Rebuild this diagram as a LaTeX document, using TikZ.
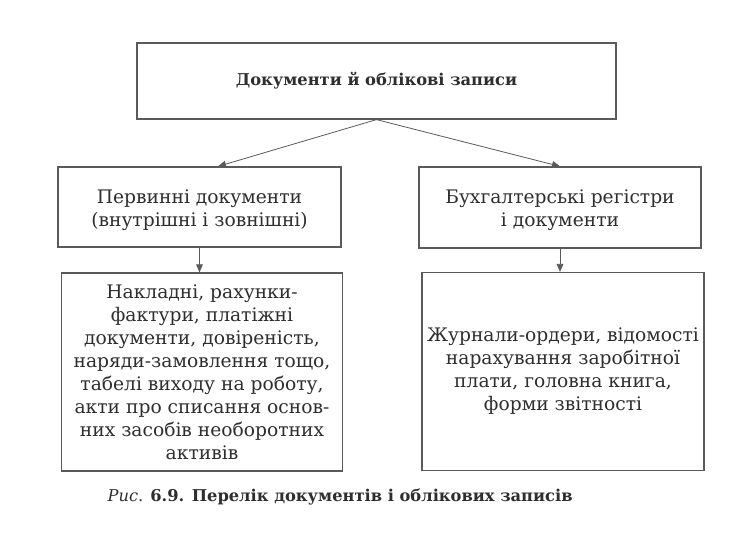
\documentclass[tikz,border=0pt]{standalone}
\usepackage{fontspec}
\setmainfont{DejaVu Serif}
\usetikzlibrary{arrows.meta,calc}
\definecolor{linec}{HTML}{5A5A5A}
\definecolor{textc}{HTML}{2E2E2E}
\begin{document}
\begin{tikzpicture}[x=0.75pt,y=-0.75pt,
  box/.style={draw=linec,line width=0.9pt,rectangle,inner sep=0pt,align=center,text=textc},
  txt/.style={inner sep=0pt,align=center,text=textc},
  arr/.style={draw=linec,line width=0.6pt,-{Triangle[length=6pt,width=5pt]}},
  bodyfont/.style={font=\fontsize{14pt}{17.25pt}\selectfont}]
\useasboundingbox (0,0) rectangle (745,535);
\fill[white] (0,0) rectangle (745,535);
\node[box,minimum width=359.25pt,minimum height=57pt,font=\bfseries\fontsize{12.2pt}{14pt}\selectfont] (top) at (376.5,81) {Документи й облікові записи};
\node[box,minimum width=212.25pt,minimum height=60pt] (ml) at (199.5,207) {};
\node[txt,bodyfont] (mlt) at ($(ml.center)+(0,3)$) {Первинні документи\\(внутрішні і зовнішні)};
\node[box,minimum width=211.5pt,minimum height=60.75pt] (mr) at (560,207.5) {};
\node[txt,bodyfont] (mrt) at ($(mr.center)+(0,3)$) {Бухгалтерські регістри\\і документи};
\node[box,minimum width=210.75pt,minimum height=148.5pt,bodyfont] (bl) at (202,372) {Накладні, рахунки-\\фактури, платіжні\\документи, довіреність,\\наряди-замовлення тощо,\\табелі виходу на роботу,\\акти про списання основ-\\них засобів необоротних\\активів};
\node[box,minimum width=211.5pt,minimum height=148.5pt,bodyfont] (br) at (563,371.5) {Журнали-ордери, відомості\\нарахування заробітної\\плати, головна книга,\\форми звітності};
\draw[arr] (top.south) -- ($(ml.north)+(18.5,0)$);
\draw[arr] (top.south) -- (mr.north);
\draw[arr] (ml.south) -- (ml.south |- bl.north);
\draw[arr] (mr.south) -- (mr.south |- br.north);
\node[text=textc,font=\fontsize{12.2pt}{14pt}\selectfont,anchor=west] (cap) at (103,497) {\textit{Рис}. \textbf{6.9. Перелік документів і облікових записів}};
\end{tikzpicture}
\end{document}
